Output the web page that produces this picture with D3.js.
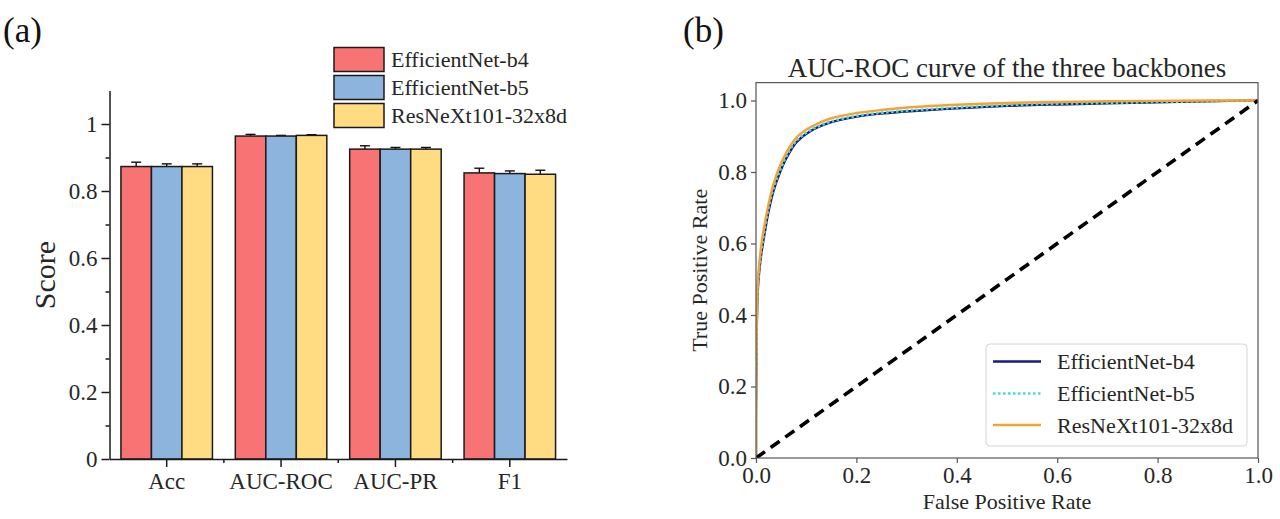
<!DOCTYPE html>
<html>
<head>
<meta charset="utf-8">
<script src="https://cdn.jsdelivr.net/npm/d3@7/dist/d3.min.js"></script>
<style>
  html, body { margin: 0; padding: 0; background: #fff; }
  svg { display: block; font-family: "Liberation Serif", "Times New Roman", serif; }
</style>
</head>
<body>
<svg id="chart" width="1280" height="519"></svg>
<script>
// ---------- Data: panel (a) ----------
const categories = ["Acc", "AUC-ROC", "AUC-PR", "F1"];
const barSeries = ["EfficientNet-b4", "EfficientNet-b5", "ResNeXt101-32x8d"];
const scoresB4 = [0.873, 0.964, 0.925, 0.854];
const errB4    = [0.013, 0.005, 0.010, 0.014];
const scoresB5 = [0.873, 0.964, 0.925, 0.852];
const errB5    = [0.008, 0.002, 0.005, 0.008];
const scoresRx = [0.873, 0.966, 0.925, 0.850];
const errRx    = [0.008, 0.002, 0.005, 0.012];
const barColors = ["#F87474", "#8DB4DC", "#FFDC82"];
const yTicksA = [0, 0.2, 0.4, 0.6, 0.8, 1];
const yMinorA = [0.1, 0.3, 0.5, 0.7, 0.9];

// ---------- Data: panel (b) ----------
const rocSeries = ["EfficientNet-b4", "EfficientNet-b5", "ResNeXt101-32x8d"];
const fpr    = [0, 0, 0.001, 0.002, 0.004, 0.007, 0.011, 0.018, 0.025, 0.035, 0.048, 0.061, 0.081, 0.108, 0.147, 0.201, 0.254, 0.307, 0.40, 0.50, 0.60, 0.70, 0.80, 0.90, 1.0];
const tprB4  = [0, 0.12, 0.28, 0.40, 0.48, 0.53, 0.575, 0.635, 0.69, 0.748, 0.80, 0.84, 0.884, 0.914, 0.938, 0.955, 0.964, 0.970, 0.978, 0.985, 0.989, 0.992, 0.995, 0.998, 1.0];
const tprB5  = [0, 0.13, 0.29, 0.41, 0.49, 0.54, 0.585, 0.645, 0.70, 0.755, 0.805, 0.845, 0.888, 0.917, 0.940, 0.957, 0.966, 0.972, 0.980, 0.987, 0.991, 0.993, 0.996, 0.998, 1.0];
const tprRx  = [0, 0.15, 0.30, 0.42, 0.50, 0.55, 0.60, 0.66, 0.71, 0.767, 0.818, 0.856, 0.897, 0.925, 0.949, 0.965, 0.974, 0.981, 0.988, 0.993, 0.996, 0.998, 0.999, 1.0, 1.0];
const rocColors = ["#1a1a7e", "#40E0D0", "#F5A234"];
const rocDash = [null, "2.5,2.5", null];
const xyTicksB = [0, 0.2, 0.4, 0.6, 0.8, 1.0];

const svg = d3.select("#chart");
const TXT = "#262626";

// ================= Panel (a) =================
const gA = svg.append("g");
const xA = d3.scaleBand().domain(categories).range([109.5, 567]).paddingInner(0).paddingOuter(0);
const xInner = d3.scaleBand().domain(barSeries).range([0, xA.bandwidth()]).paddingInner(0).paddingOuter(0.375);
const yA = d3.scaleLinear().domain([0, 1.1]).range([459, 90.5]);

const barData = [];
const sVals = [scoresB4, scoresB5, scoresRx];
const sErrs = [errB4, errB5, errRx];
categories.forEach((c, i) => {
  barSeries.forEach((s, j) => {
    barData.push({cat: c, ser: s, v: sVals[j][i], e: sErrs[j][i], col: barColors[j]});
  });
});

// error bars (drawn first so bar body hides the lower half)
const eb = gA.append("g").attr("stroke", "#111").attr("stroke-width", 1.4);
barData.forEach(d => {
  const cx = xA(d.cat) + xInner(d.ser) + xInner.bandwidth() / 2;
  eb.append("line").attr("x1", cx).attr("x2", cx).attr("y1", yA(d.v - d.e)).attr("y2", yA(d.v + d.e));
  eb.append("line").attr("x1", cx - 5).attr("x2", cx + 5).attr("y1", yA(d.v + d.e)).attr("y2", yA(d.v + d.e));
});

gA.append("g").selectAll("rect").data(barData).join("rect")
  .attr("x", d => xA(d.cat) + xInner(d.ser))
  .attr("y", d => yA(d.v))
  .attr("width", xInner.bandwidth())
  .attr("height", d => yA(0) - yA(d.v))
  .attr("fill", d => d.col)
  .attr("stroke", "#1a1a1a")
  .attr("stroke-width", 1.5);

// y axis
const yAxA = gA.append("g").attr("transform", "translate(109.5,0)")
  .call(d3.axisLeft(yA).tickValues(yTicksA).tickSize(8).tickSizeOuter(0).tickPadding(4)
    .tickFormat(d => d === 0 ? "0" : d === 1 ? "1" : d3.format(".1f")(d)));
yAxA.select(".domain").attr("stroke", "#1a1a1a").attr("stroke-width", 1.5);
yAxA.selectAll(".tick line").attr("stroke", "#1a1a1a").attr("stroke-width", 1.5);
yAxA.selectAll("text").attr("font-size", 23).attr("fill", TXT).attr("font-family", "Liberation Serif");
const yMinA = gA.append("g").attr("transform", "translate(109.5,0)")
  .call(d3.axisLeft(yA).tickValues(yMinorA).tickSize(4).tickFormat(""));
yMinA.select(".domain").remove();
yMinA.selectAll(".tick line").attr("stroke", "#1a1a1a").attr("stroke-width", 1.5);

// x axis
const xAxA = gA.append("g").attr("transform", "translate(0,459)")
  .call(d3.axisBottom(xA).tickSize(8).tickSizeOuter(0).tickPadding(6));
xAxA.select(".domain").attr("stroke", "#1a1a1a").attr("stroke-width", 1.5);
xAxA.selectAll(".tick line").attr("stroke", "#1a1a1a").attr("stroke-width", 1.5);
xAxA.selectAll("text").attr("font-size", 23).attr("fill", TXT).attr("font-family", "Liberation Serif");
// minor x ticks at category boundaries
const bounds = categories.slice(1).map(c => xA(c));
gA.append("g").selectAll("line").data(bounds).join("line")
  .attr("x1", d => d).attr("x2", d => d).attr("y1", 459).attr("y2", 463)
  .attr("stroke", "#1a1a1a").attr("stroke-width", 1.5);

// y label
gA.append("text").attr("transform", "translate(55,275) rotate(-90)")
  .attr("text-anchor", "middle").attr("font-size", 30).attr("fill", TXT).text("Score");

// legend (a)
const legA = gA.append("g");
barSeries.forEach((s, j) => {
  const y0 = 47.5 + j * 28;
  legA.append("rect").attr("x", 334).attr("y", y0).attr("width", 50).attr("height", 24)
    .attr("fill", barColors[j]).attr("stroke", "#1a1a1a").attr("stroke-width", 1.5);
  legA.append("text").attr("x", 391).attr("y", y0 + 12).attr("dy", "0.35em")
    .attr("font-size", 22).attr("fill", TXT).text(s);
});

// panel label
svg.append("text").attr("x", 3).attr("y", 42).attr("font-size", 35).attr("fill", "#111").text("(a)");

// ================= Panel (b) =================
const gB = svg.append("g");
const xB = d3.scaleLinear().domain([0, 1]).range([756, 1258]);
const yB = d3.scaleLinear().domain([0, 1.05]).range([458, 458 - 1.05 * 357.5]);

svg.append("defs").append("clipPath").attr("id", "clipB")
  .append("rect").attr("x", xB(0)).attr("y", yB(1.05)).attr("width", xB(1) - xB(0)).attr("height", yB(0) - yB(1.05));

const plotB = gB.append("g").attr("clip-path", "url(#clipB)");
const tprs = [tprB4, tprB5, tprRx];
const line = d3.line().x(d => xB(d[0])).y(d => yB(d[1])).curve(d3.curveCatmullRom.alpha(0.5));
rocSeries.forEach((s, j) => {
  const pts = fpr.map((f, i) => [f, tprs[j][i]]);
  plotB.append("path").attr("d", line(pts)).attr("fill", "none")
    .attr("stroke", rocColors[j]).attr("stroke-width", j === 1 ? 2.6 : 2.4)
    .attr("stroke-dasharray", rocDash[j]);
});
// diagonal
plotB.append("path").attr("d", d3.line().x(d => xB(d[0])).y(d => yB(d[1]))([[0, 0], [1, 1]]))
  .attr("fill", "none").attr("stroke", "#000").attr("stroke-width", 3.6).attr("stroke-dasharray", "11,7");

// frame
gB.append("rect").attr("x", xB(0)).attr("y", yB(1.05)).attr("width", xB(1) - xB(0)).attr("height", yB(0) - yB(1.05))
  .attr("fill", "none").attr("stroke", "#555").attr("stroke-width", 1.2);

const fmtB = d3.format(".1f");
const xAxB = gB.append("g").attr("transform", `translate(0,${yB(0)})`)
  .call(d3.axisBottom(xB).tickValues(xyTicksB).tickSize(5).tickSizeOuter(0).tickPadding(4).tickFormat(fmtB));
xAxB.select(".domain").remove();
xAxB.selectAll(".tick line").attr("stroke", "#555").attr("stroke-width", 1.2);
xAxB.selectAll("text").attr("font-size", 23).attr("fill", TXT).attr("font-family", "Liberation Serif");

const yAxB = gB.append("g").attr("transform", `translate(${xB(0)},0)`)
  .call(d3.axisLeft(yB).tickValues(xyTicksB).tickSize(5).tickSizeOuter(0).tickPadding(4).tickFormat(fmtB));
yAxB.select(".domain").remove();
yAxB.selectAll(".tick line").attr("stroke", "#555").attr("stroke-width", 1.2);
yAxB.selectAll("text").attr("font-size", 23).attr("fill", TXT).attr("font-family", "Liberation Serif");

// title and labels
gB.append("text").attr("x", (xB(0) + xB(1)) / 2).attr("y", 77).attr("text-anchor", "middle")
  .attr("font-size", 27).attr("fill", TXT).text("AUC-ROC curve of the three backbones");
gB.append("text").attr("x", (xB(0) + xB(1)) / 2).attr("y", 509).attr("text-anchor", "middle")
  .attr("font-size", 22).attr("fill", TXT).text("False Positive Rate");
gB.append("text").attr("transform", `translate(707,${(yB(0) + yB(1.05)) / 2}) rotate(-90)`)
  .attr("text-anchor", "middle").attr("font-size", 22).attr("fill", TXT).text("True Positive Rate");

// legend (b)
const legB = gB.append("g");
legB.append("rect").attr("x", 986).attr("y", 344).attr("width", 261).attr("height", 102)
  .attr("rx", 4).attr("fill", "#fff").attr("fill-opacity", 0.85).attr("stroke", "#d4d4d4").attr("stroke-width", 1);
const legRowsY = [361.5, 393.5, 425];
rocSeries.forEach((s, j) => {
  legB.append("line").attr("x1", 993).attr("x2", 1041).attr("y1", legRowsY[j]).attr("y2", legRowsY[j])
    .attr("stroke", rocColors[j]).attr("stroke-width", j === 1 ? 2.6 : 2.6).attr("stroke-dasharray", rocDash[j]);
  legB.append("text").attr("x", 1057).attr("y", legRowsY[j]).attr("dy", "0.35em")
    .attr("font-size", 22).attr("fill", TXT).text(s);
});

svg.append("text").attr("x", 683).attr("y", 42).attr("font-size", 35).attr("fill", "#111").text("(b)");
</script>
</body>
</html>
